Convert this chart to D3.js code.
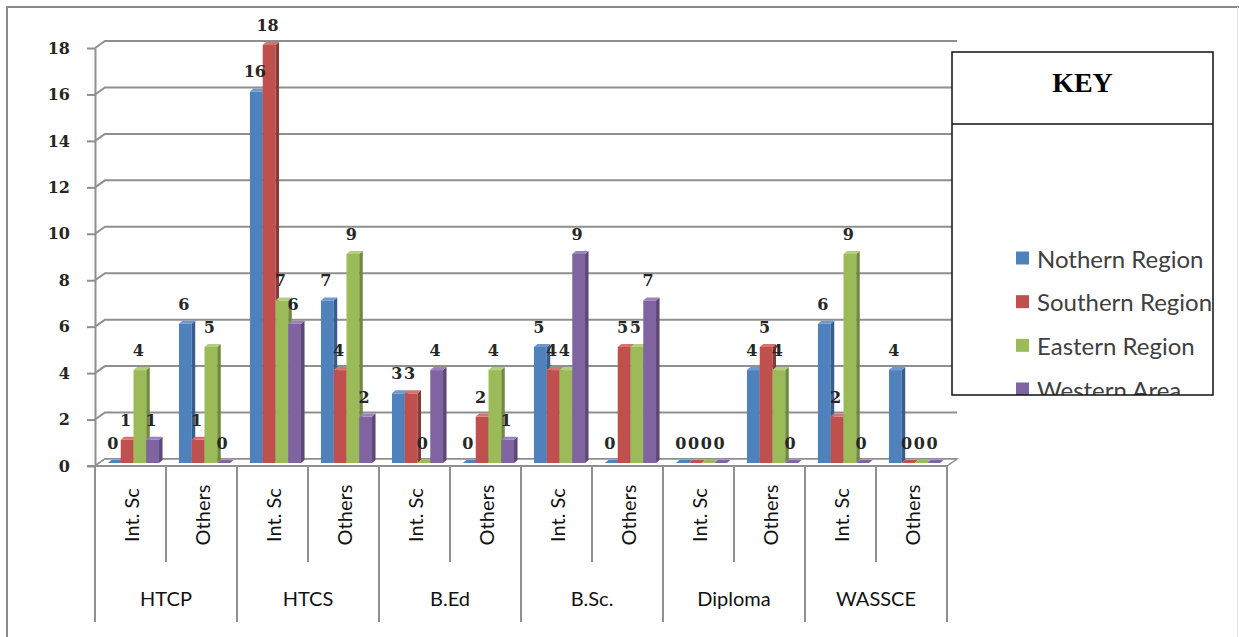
<!DOCTYPE html>
<html>
<head>
<meta charset="utf-8">
<script src="https://cdn.jsdelivr.net/npm/d3@7"></script>
<style>
  html, body { margin: 0; padding: 0; background: #fff; }
  svg { display: block; }
</style>
</head>
<body>
<svg id="chart" width="1239" height="637"></svg>
<script>
// Qualification groups and their two sub-categories
const categories = ["HTCP", "HTCS", "B.Ed", "B.Sc.", "Diploma", "WASSCE"];
const subCategories = ["Int. Sc", "Others"];
const series = ["Nothern Region", "Southern Region", "Eastern Region", "Western Area"];

// Counts per sub-category, in order HTCP Int.Sc, HTCP Others, HTCS Int.Sc, ...
const nothern  = [0, 6, 16, 7, 3, 0, 5, 0, 0, 4, 6, 4];
const southern = [1, 1, 18, 4, 3, 2, 4, 5, 0, 5, 2, 0];
const eastern  = [4, 5, 7, 9, 0, 4, 4, 5, 0, 4, 9, 0];
const western  = [1, 0, 6, 2, 4, 1, 9, 7, 0, 0, 0, 0];

const yTicks = [0, 2, 4, 6, 8, 10, 12, 14, 16, 18];

const seriesValues = [nothern, southern, eastern, western];
const colors = {
  front: ["#4F81BD", "#C0504D", "#9BBB59", "#8064A2"],
  side:  ["#385D8A", "#8C3836", "#71893F", "#5C4776"],
  top:   ["#7197CF", "#D37471", "#B3CE7E", "#9A82BA"]
};

const numberFont = "'DejaVu Serif', serif";
const textFont = "Lato, sans-serif";

const svg = d3.select("#chart");

// frame around the chart area
svg.append("path")
  .attr("d", "M7,637 L7,7 L1239,7")
  .attr("fill", "none").attr("stroke", "#8a8a8a").attr("stroke-width", 2);
svg.append("line")
  .attr("x1", 1237.5).attr("x2", 1237.5).attr("y1", 7).attr("y2", 637)
  .attr("stroke", "#e6e6e6").attr("stroke-width", 1);

// scales
const slots = d3.range(categories.length * subCategories.length);
const x0 = d3.scaleBand().domain(slots).range([95, 947]).paddingInner(0).paddingOuter(0);
const x1 = d3.scaleBand().domain(d3.range(series.length)).range([0, x0.bandwidth()]).paddingInner(0).paddingOuter(0.78);
const y = d3.scaleLinear().domain([0, 18]).range([466, 48]);

// 3D offsets: back wall, bar front plane, bar depth
const WX = 10, WY = -7;
const BX = 3, BY = -3;
const DX = 3.5, DY = -3;
const wallRight = 957;
const gridColor = "#8f8f8f";

// gridlines on back wall with the diagonal link to the axis
const grid = svg.append("g");
yTicks.forEach(t => {
  const yy = y(t);
  grid.append("path")
    .attr("d", `M95,${yy} L${95 + WX},${yy + WY} L${wallRight},${yy + WY}`)
    .attr("fill", "none").attr("stroke", gridColor).attr("stroke-width", 2);
});

// floor slab
svg.append("path")
  .attr("d", `M95,466 L${95 + WX},${466 + WY} L${wallRight},${466 + WY} L947,466 Z`)
  .attr("fill", "#fff").attr("stroke", gridColor).attr("stroke-width", 1.5);

// value axis
const yAxis = d3.axisLeft(y).tickValues(yTicks).tickSize(8).tickSizeOuter(0).tickPadding(17);
const ya = svg.append("g").attr("transform", "translate(95,0)").call(yAxis);
ya.select(".domain").attr("stroke", gridColor).attr("stroke-width", 2);
ya.selectAll(".tick line").attr("stroke", gridColor).attr("stroke-width", 2);
ya.selectAll(".tick text")
  .attr("font-family", numberFont).attr("font-weight", "bold")
  .attr("font-size", 16).attr("fill", "#262626");

// bars
const bars = svg.append("g");
slots.forEach(i => {
  seriesValues.forEach((vals, s) => {
    const v = vals[i];
    const xl = x0(i) + x1(s) + BX;
    const w = x1.bandwidth();
    const yb = y(0) + BY;
    const yt = y(v) + BY;
    const g = bars.append("g");
    if (v > 0) {
      g.append("rect").attr("x", xl).attr("y", yt).attr("width", w).attr("height", yb - yt)
        .attr("fill", colors.front[s]);
      g.append("path")
        .attr("d", `M${xl + w},${yt} L${xl + w + DX},${yt + DY} L${xl + w + DX},${yb + DY} L${xl + w},${yb} Z`)
        .attr("fill", colors.side[s]);
    }
    g.append("path")
      .attr("d", `M${xl},${yt} L${xl + w},${yt} L${xl + w + DX},${yt + DY} L${xl + DX},${yt + DY} Z`)
      .attr("fill", v > 0 ? colors.top[s] : colors.front[s]);
  });
});

// value labels
const labels = svg.append("g")
  .attr("font-family", numberFont).attr("font-weight", "bold")
  .attr("font-size", 16).attr("fill", "#262626").attr("text-anchor", "middle");
slots.forEach(i => {
  seriesValues.forEach((vals, s) => {
    const v = vals[i];
    labels.append("text")
      .attr("x", x0(i) + x1(s) + BX + x1.bandwidth() / 2 - 1.5)
      .attr("y", y(v) + BY - 14)
      .text(v);
  });
});

// category axis: line, dividers and labels
const cat = svg.append("g");
cat.append("line").attr("x1", 87).attr("x2", 947).attr("y1", 466).attr("y2", 466)
  .attr("stroke", gridColor).attr("stroke-width", 2);
d3.range(slots.length + 1).forEach(k => {
  const xx = k < slots.length ? x0(k) : x0.range()[1];
  cat.append("line").attr("x1", xx).attr("x2", xx).attr("y1", 466)
    .attr("y2", k % 2 === 0 ? 622 : 562)
    .attr("stroke", gridColor).attr("stroke-width", 2);
});
slots.forEach(i => {
  const cx = x0(i) + x0.bandwidth() / 2;
  cat.append("text")
    .attr("transform", `translate(${cx},515) rotate(-90)`)
    .attr("text-anchor", "middle").attr("dominant-baseline", "central")
    .attr("font-family", textFont).attr("font-size", 20).attr("fill", "#111")
    .text(subCategories[i % 2]);
});
categories.forEach((c, j) => {
  const cx = x0(j * 2) + x0.bandwidth();
  cat.append("text")
    .attr("x", cx).attr("y", 598)
    .attr("text-anchor", "middle").attr("dominant-baseline", "central")
    .attr("font-family", textFont).attr("font-size", 20).attr("fill", "#111")
    .text(c);
});

// legend box
const lg = { x: 952, y: 52, w: 261, h: 343, split: 124 };
svg.append("defs").append("clipPath").attr("id", "legendClip")
  .append("rect").attr("x", lg.x).attr("y", lg.y).attr("width", lg.w).attr("height", lg.h);
const legend = svg.append("g");
legend.append("rect").attr("x", lg.x).attr("y", lg.y).attr("width", lg.w).attr("height", lg.h)
  .attr("fill", "#fff");
legend.append("text")
  .attr("x", lg.x + lg.w / 2).attr("y", 82)
  .attr("text-anchor", "middle").attr("dominant-baseline", "central")
  .attr("font-family", "'Liberation Serif', serif").attr("font-weight", "bold")
  .attr("font-size", 28).attr("fill", "#000")
  .text("KEY");
const items = legend.append("g").attr("clip-path", "url(#legendClip)");
const ly = d3.scalePoint().domain(series).range([258, 389]);
series.forEach((name, s) => {
  items.append("rect").attr("x", 1016).attr("y", ly(name) - 6.5).attr("width", 13).attr("height", 13)
    .attr("fill", colors.front[s]);
  items.append("text").attr("x", 1037).attr("y", ly(name))
    .attr("dominant-baseline", "central")
    .attr("font-family", textFont).attr("font-size", 24).attr("fill", "#404040")
    .text(name);
});
legend.append("rect").attr("x", lg.x).attr("y", lg.y).attr("width", lg.w).attr("height", lg.h)
  .attr("fill", "none").attr("stroke", "#111").attr("stroke-width", 1.5);
legend.append("line").attr("x1", lg.x).attr("x2", lg.x + lg.w).attr("y1", lg.split).attr("y2", lg.split)
  .attr("stroke", "#111").attr("stroke-width", 1.5);
</script>
</body>
</html>
